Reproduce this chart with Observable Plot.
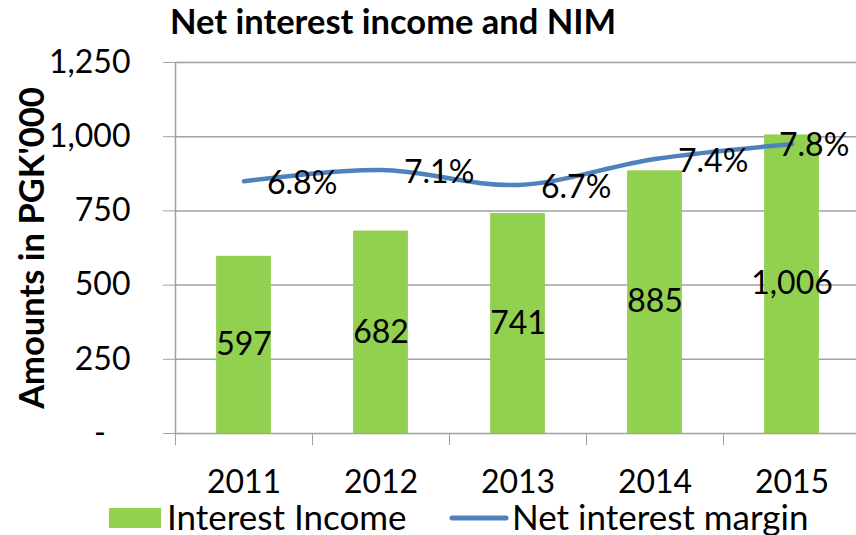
<!DOCTYPE html>
<html>
<head>
<meta charset="utf-8">
<script src="https://cdn.jsdelivr.net/npm/d3@7"></script>
<script src="https://cdn.jsdelivr.net/npm/@observablehq/plot@0.6"></script>
<style>
  html, body { margin: 0; padding: 0; background: #fff; }
  body { width: 856px; height: 535px; position: relative; overflow: hidden; font-family: Lato, "Open Sans", sans-serif; }
  #title { position: absolute; left: 170px; top: 4px; font-size: 34.5px; font-weight: bold; line-height: 1; white-space: nowrap; color: #000; }
  #chart { position: absolute; left: 0; top: 50px; }
  #legend { position: absolute; left: 0; top: 498px; }
</style>
</head>
<body>
<div id="title"></div>
<div id="chart"></div>
<div id="legend"></div>
<script>
const titleText = "Net interest income and NIM";
const yAxisTitle = "Amounts in PGK'000";
const years = [2011, 2012, 2013, 2014, 2015];
const interestIncome = [597, 682, 741, 885, 1006];
const nimPct = [6.8, 7.1, 6.7, 7.4, 7.8];
const yTicks = [0, 250, 500, 750, 1000, 1250];
const nimAxisMax = 10; // hidden secondary axis: 0% – 10%
const seriesNames = ["Interest Income", "Net interest margin"];
const seriesColors = ["#92D050", "#4F81BD"];

const yMax = yTicks[yTicks.length - 1];
const data = years.map((year, i) => ({
  year,
  income: interestIncome[i],
  nim: nimPct[i],
  nimY: nimPct[i] / nimAxisMax * yMax
}));
const boundaries = [years[0] - 0.5, ...years.map(y => y + 0.5)];
const grid = "#A0A0A0";
const fmt = d3.format(",");

document.getElementById("title").textContent = titleText;

const lastYear = years[years.length - 1];
const plot = Plot.plot({
  width: 856,
  height: 450,
  marginLeft: 175,
  marginRight: 0,
  marginTop: 12,
  marginBottom: 67,
  style: { fontFamily: "Lato, 'Open Sans', sans-serif", fontSize: "32px", color: "#000", background: "transparent", overflow: "visible" },
  x: { type: "linear", domain: [boundaries[0], boundaries[boundaries.length - 1]], range: [175, 860] },
  y: { domain: [0, yMax] },
  marks: [
    Plot.ruleY(yTicks, { stroke: grid, strokeWidth: 1.5 }),
    Plot.axisY({ ticks: yTicks, tickSize: 12, tickPadding: 33, stroke: grid, fill: "#000", label: null,
      tickFormat: d => d === 0 ? "-\u00a0\u00a0\u00a0" : fmt(d) }),
    Plot.axisY({ ticks: [], tickSize: 0, label: yAxisTitle, labelAnchor: "center", labelOffset: 156, labelArrow: "none",
      fontSize: 34.5, fontWeight: "bold", fill: "#000" }),
    Plot.rectY(data, { x1: d => d.year - 0.2, x2: d => d.year + 0.2, y1: 0, y2: "income", fill: seriesColors[0] }),
    Plot.ruleX([boundaries[0]], { y1: 0, y2: yMax, stroke: grid, strokeWidth: 1.5 }),
    Plot.axisX({ ticks: boundaries, tickSize: 12, tickFormat: () => "", stroke: grid, label: null }),
    Plot.axisX({ ticks: years, tickSize: 0, tickPadding: 37, tickFormat: d => String(d), fill: "#000", label: null }),
    Plot.line(data, { x: "year", y: "nimY", curve: "catmull-rom", stroke: seriesColors[1], strokeWidth: 4.5, strokeLinecap: "round" }),
    Plot.text(data, { x: "year", y: d => d.income / 2, text: d => fmt(d.income), fill: "#000", lineAnchor: "middle" }),
    Plot.text(data.filter(d => d.year !== lastYear), { x: "year", y: "nimY", text: d => d.nim.toFixed(1) + "%", textAnchor: "start", dx: 23, dy: 3, lineAnchor: "middle", fill: "#000" }),
    Plot.text(data.filter(d => d.year === lastYear), { x: "year", y: "nimY", text: d => d.nim.toFixed(1) + "%", textAnchor: "start", dx: -13, dy: 2, lineAnchor: "middle", fill: "#000" })
  ]
});
document.getElementById("chart").appendChild(plot);

// legend
const lg = d3.select("#legend").append("svg").attr("width", 856).attr("height", 37)
  .style("font-family", "Lato, 'Open Sans', sans-serif").style("font-size", "35px");
lg.append("rect").attr("x", 109).attr("y", 10).attr("width", 52).attr("height", 20).attr("fill", seriesColors[0]);
lg.append("text").attr("x", 167).attr("y", 20).attr("dy", "0.35em").text(seriesNames[0]);
lg.append("line").attr("x1", 452).attr("x2", 506).attr("y1", 20).attr("y2", 20)
  .attr("stroke", seriesColors[1]).attr("stroke-width", 5).attr("stroke-linecap", "round");
lg.append("text").attr("x", 512).attr("y", 20).attr("dy", "0.35em").text(seriesNames[1]);
</script>
</body>
</html>
